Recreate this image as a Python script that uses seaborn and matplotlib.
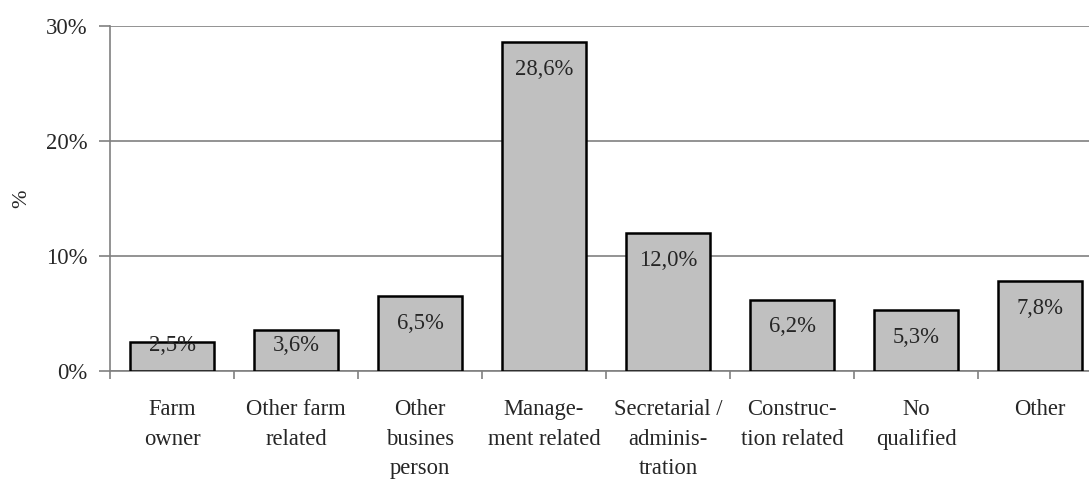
import matplotlib
matplotlib.use("Agg")
import matplotlib.pyplot as plt
import seaborn as sns
import pandas as pd

categories = ["Farm\nowner", "Other farm\nrelated", "Other\nbusines\nperson",
              "Manage-\nment related", "Secretarial /\nadminis-\ntration",
              "Construc-\ntion related", "No\nqualified", "Other"]
values = [2.5, 3.6, 6.5, 28.6, 12.0, 6.2, 5.3, 7.8]
value_labels = ["2,5%", "3,6%", "6,5%", "28,6%", "12,0%", "6,2%", "5,3%", "7,8%"]
yticks = [0, 10, 20, 30]
ytick_labels = ["0%", "10%", "20%", "30%"]

sns.set_style("white")
plt.rcParams["font.family"] = ["Liberation Serif", "DejaVu Serif"]
plt.rcParams["font.size"] = 16.3

df = pd.DataFrame({"cat": categories, "val": values})

fig = plt.figure(figsize=(10.89, 4.82), dpi=100)
ax = fig.add_axes([110 / 1089, 1 - 371 / 482, 1 - 110 / 1089, 345 / 482])

sns.barplot(data=df, x="cat", y="val", color="#C0C0C0", width=0.67,
            edgecolor="black", linewidth=1.8, saturation=1, ax=ax, zorder=3)

ax.set_yticks(yticks)
ax.set_yticklabels(ytick_labels)
ax.yaxis.grid(True, color="#808080", linewidth=1.2, zorder=0)
ax.set_axisbelow(True)

for s in ["top", "right"]:
    ax.spines[s].set_visible(False)
for s in ["left", "bottom"]:
    ax.spines[s].set_color("#808080")
    ax.spines[s].set_linewidth(1.2)

# x ticks sit on category boundaries, labels in between
ax.set_xticks([i - 0.5 for i in range(9)], minor=False)
ax.set_xticklabels([])
ax.set_xticks(range(len(categories)), minor=True)
ax.set_xticklabels(categories, minor=True, linespacing=1.55, va="top")
ax.tick_params(axis="x", which="major", length=6, color="#808080", width=1.2, direction="out", bottom=True)
ax.tick_params(axis="x", which="minor", length=0, pad=20)
ax.tick_params(axis="y", length=8, color="#808080", width=1.2, direction="out", left=True, pad=8)

ax.set_ylim(0, 30)
ax.set_xlim(-0.5, 7.395)

for i, (v, lab) in enumerate(zip(values, value_labels)):
    ax.text(i, max(v - 2.35, 2.2), lab, ha="center", va="center", zorder=4)

ax.set_xlabel("")
ax.set_ylabel("%", fontsize=16)
ax.yaxis.set_label_coords(-0.08, 0.5)

fig.savefig("out.png", dpi=100)
